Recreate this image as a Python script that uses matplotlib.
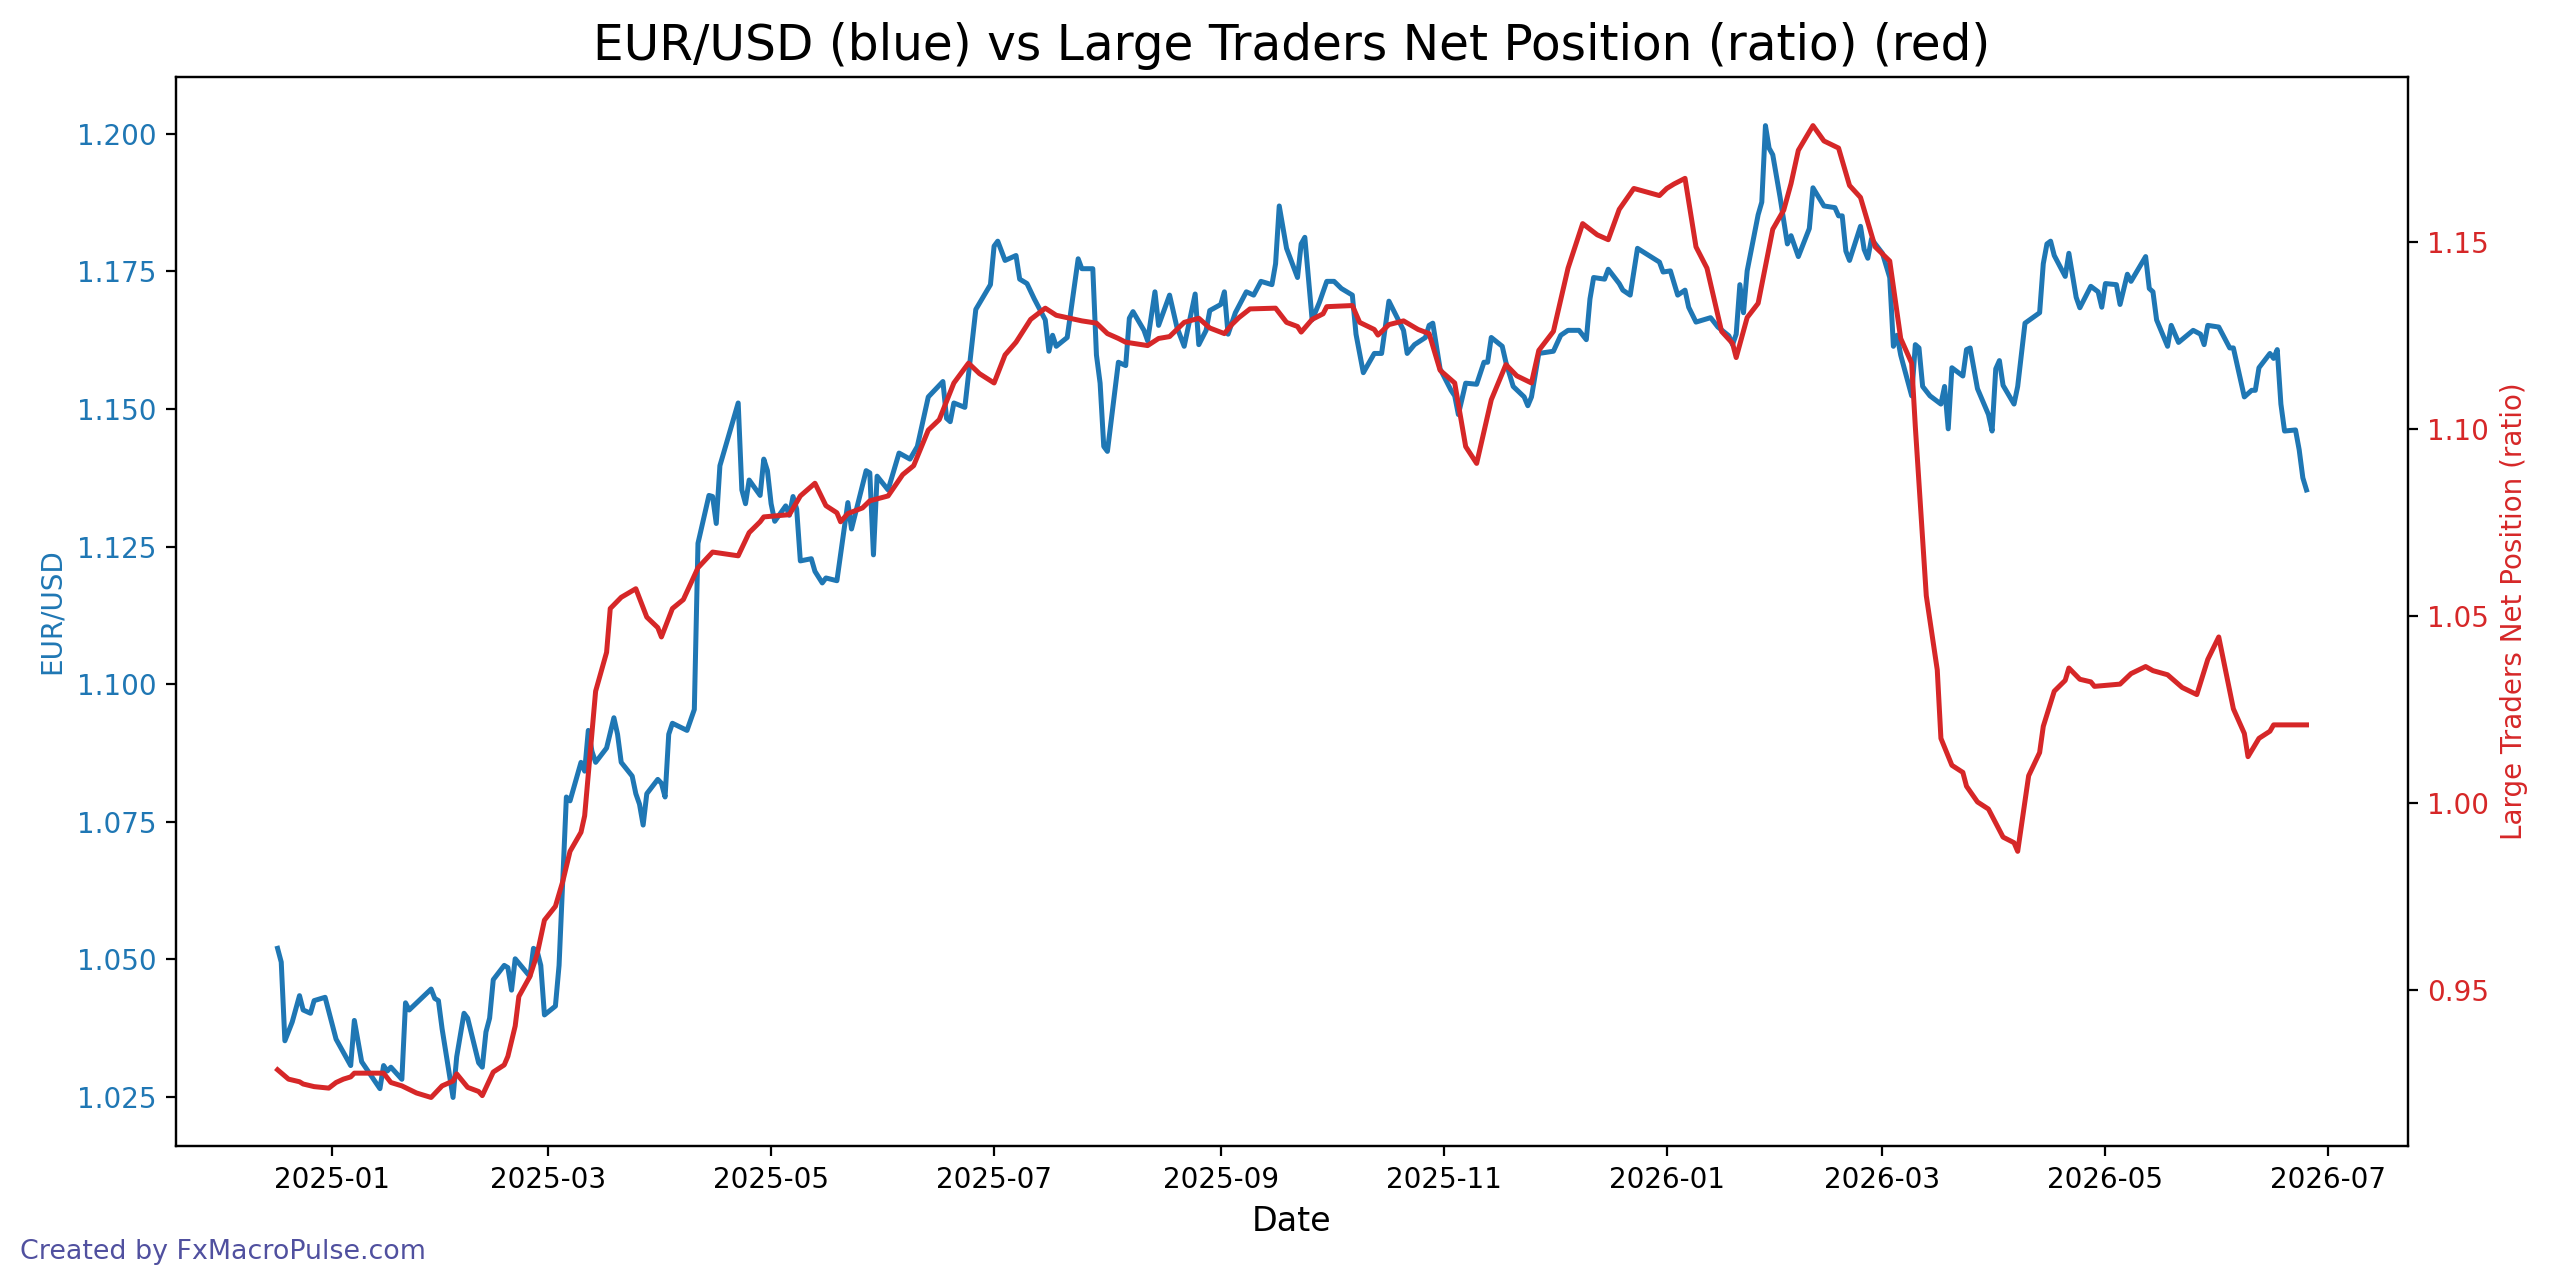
import numpy as np
import pandas as pd
import matplotlib
matplotlib.use("Agg")
import matplotlib.pyplot as plt

# Dates are given as day offsets from 2025-01-01
base_date = "2025-01-01"

# EUR/USD close (blue)
eur_days = [-15, -14, -13, -11, -9, -8, -6, -5, -2, 1, 5, 6, 8, 13, 14, 15, 16, 19, 20, 21,
            27, 28, 29, 30, 33, 34, 36, 37, 40, 41, 42, 43, 44, 47, 48, 49, 50, 54, 55, 56,
            57, 58, 61, 62, 64, 65, 68, 69, 70, 71, 72, 75, 77, 78, 79, 82, 83, 84, 85, 86,
            89, 90, 91, 92, 93, 97, 99, 100, 103, 104, 105, 106, 111, 112, 113, 114, 117, 118, 119, 120,
            121, 124, 125, 126, 127, 128, 131, 132, 134, 135, 138, 141, 142, 146, 147, 148, 149, 152, 155, 158,
            160, 163, 167, 168, 169, 170, 173, 176, 180, 181, 182, 184, 187, 188, 190, 192, 195, 196, 197, 198,
            201, 203, 204, 205, 208, 209, 210, 211, 212, 215, 217, 218, 219, 222, 223, 225, 226, 229, 231, 233,
            236, 237, 239, 240, 243, 244, 245, 247, 250, 252, 254, 257, 258, 259, 261, 264, 265, 266, 268, 270,
            272, 274, 276, 279, 280, 282, 285, 287, 289, 293, 294, 296, 299, 300, 301, 303, 306, 307, 308, 310,
            313, 315, 316, 317, 320, 321, 323, 326, 327, 328, 330, 334, 336, 338, 341, 343, 344, 345, 348, 349,
            352, 353, 355, 357, 363, 364, 366, 368, 370, 371, 373, 377, 379, 382, 383, 384, 385, 386, 387, 390,
            391, 392, 393, 394, 396, 398, 399, 401, 404, 405, 408, 411, 412, 413, 414, 415, 418, 419, 420, 421,
            424, 426, 427, 428, 429, 432, 433, 434, 435, 437, 440, 441, 442, 443, 446, 447, 448, 450, 453, 454,
            455, 456, 457, 460, 461, 463, 467, 468, 469, 470, 471, 474, 475, 477, 478, 481, 483, 484, 485, 488,
            489, 491, 492, 496, 497, 498, 499, 502, 503, 505, 509, 511, 512, 513, 516, 519, 520, 523, 525, 526,
            527, 530, 531, 532, 533, 534, 537, 538, 539, 540]
eur_usd = [1.0520, 1.0495, 1.0352, 1.0386, 1.0434, 1.0408, 1.0402, 1.0425, 1.0431, 1.0355,
           1.0307, 1.0389, 1.0314, 1.0265, 1.0307, 1.0297, 1.0304, 1.0282, 1.0421, 1.0408,
           1.0446, 1.0429, 1.0425, 1.0374, 1.0249, 1.0323, 1.0402, 1.0393, 1.0312, 1.0304,
           1.0368, 1.0393, 1.0463, 1.0489, 1.0485, 1.0444, 1.0501, 1.0469, 1.0520, 1.0515,
           1.0489, 1.0399, 1.0415, 1.0489, 1.0795, 1.0788, 1.0858, 1.0842, 1.0916, 1.0878,
           1.0858, 1.0884, 1.0939, 1.0909, 1.0858, 1.0833, 1.0801, 1.0782, 1.0744, 1.0801,
           1.0827, 1.0820, 1.0795, 1.0909, 1.0929, 1.0916, 1.0954, 1.1256, 1.1343, 1.1341,
           1.1292, 1.1397, 1.1511, 1.1353, 1.1328, 1.1371, 1.1343, 1.1409, 1.1388, 1.1328,
           1.1296, 1.1324, 1.1307, 1.1341, 1.1318, 1.1224, 1.1228, 1.1205, 1.1184, 1.1193,
           1.1188, 1.1330, 1.1282, 1.1388, 1.1384, 1.1235, 1.1378, 1.1353, 1.1420, 1.1409,
           1.1432, 1.1522, 1.1550, 1.1483, 1.1477, 1.1511, 1.1503, 1.1681, 1.1726, 1.1796,
           1.1805, 1.1770, 1.1779, 1.1736, 1.1728, 1.1700, 1.1662, 1.1605, 1.1634, 1.1614,
           1.1630, 1.1726, 1.1773, 1.1755, 1.1755, 1.1598, 1.1547, 1.1432, 1.1423, 1.1585,
           1.1579, 1.1665, 1.1677, 1.1643, 1.1624, 1.1713, 1.1652, 1.1707, 1.1649, 1.1614,
           1.1709, 1.1617, 1.1643, 1.1679, 1.1690, 1.1713, 1.1636, 1.1675, 1.1713, 1.1707,
           1.1732, 1.1726, 1.1764, 1.1869, 1.1792, 1.1739, 1.1800, 1.1812, 1.1662, 1.1694,
           1.1732, 1.1732, 1.1719, 1.1707, 1.1636, 1.1566, 1.1601, 1.1601, 1.1696, 1.1643,
           1.1601, 1.1617, 1.1630, 1.1652, 1.1656, 1.1573, 1.1534, 1.1524, 1.1490, 1.1547,
           1.1545, 1.1585, 1.1585, 1.1630, 1.1614, 1.1585, 1.1541, 1.1522, 1.1506, 1.1522,
           1.1601, 1.1605, 1.1634, 1.1643, 1.1643, 1.1626, 1.1700, 1.1739, 1.1736, 1.1754,
           1.1728, 1.1716, 1.1707, 1.1792, 1.1767, 1.1749, 1.1751, 1.1707, 1.1716, 1.1685,
           1.1658, 1.1666, 1.1649, 1.1633, 1.1617, 1.1636, 1.1726, 1.1675, 1.1751, 1.1853,
           1.1876, 1.2015, 1.1974, 1.1962, 1.1885, 1.1800, 1.1815, 1.1777, 1.1828, 1.1902,
           1.1869, 1.1866, 1.1851, 1.1851, 1.1787, 1.1770, 1.1832, 1.1790, 1.1774, 1.1809,
           1.1783, 1.1739, 1.1614, 1.1634, 1.1598, 1.1524, 1.1617, 1.1611, 1.1541, 1.1524,
           1.1509, 1.1541, 1.1464, 1.1575, 1.1560, 1.1608, 1.1611, 1.1537, 1.1490, 1.1460,
           1.1573, 1.1588, 1.1543, 1.1509, 1.1541, 1.1656, 1.1675, 1.1764, 1.1800, 1.1805,
           1.1779, 1.1741, 1.1783, 1.1703, 1.1684, 1.1723, 1.1713, 1.1685, 1.1728, 1.1726,
           1.1690, 1.1745, 1.1732, 1.1777, 1.1719, 1.1713, 1.1662, 1.1614, 1.1652, 1.1621,
           1.1643, 1.1636, 1.1617, 1.1652, 1.1649, 1.1611, 1.1611, 1.1522, 1.1534, 1.1534,
           1.1575, 1.1601, 1.1592, 1.1608, 1.1509, 1.1460, 1.1462, 1.1426, 1.1375, 1.1353]

# Large traders net position ratio (red)
ratio_days = [-15, -12, -9, -8, -5, -1, 1, 3, 5, 6, 14, 16, 19, 23, 27, 30, 33, 34, 37, 40,
              41, 44, 47, 48, 50, 51, 54, 56, 58, 61, 63, 65, 68, 69, 72, 75, 76, 79, 83, 86,
              89, 90, 93, 96, 100, 104, 111, 114, 117, 118, 125, 128, 132, 135, 138, 139, 141, 145, 147, 152,
              156, 159, 163, 166, 170, 174, 177, 181, 184, 187, 191, 195, 198, 205, 209, 212, 215, 217, 219, 223,
              226, 229, 233, 237, 240, 244, 246, 248, 251, 258, 261, 264, 265, 268, 271, 272, 279, 281, 285, 286,
              289, 293, 297, 300, 303, 307, 310, 313, 317, 321, 324, 328, 330, 334, 338, 342, 346, 349, 352, 356,
              363, 365, 367, 370, 373, 376, 378, 380, 383, 384, 387, 390, 394, 397, 399, 401, 405, 408, 412, 415,
              418, 422, 426, 429, 432, 433, 436, 439, 440, 443, 446, 447, 450, 453, 457, 460, 461, 464, 467, 468,
              471, 474, 475, 478, 481, 482, 489, 492, 496, 498, 502, 506, 510, 513, 516, 520, 523, 524, 527, 530,
              531, 540]
net_ratio = [0.9287, 0.9262, 0.9255, 0.9249, 0.9242, 0.9238, 0.9253, 0.9262, 0.9268, 0.9278,
             0.9278, 0.9253, 0.9244, 0.9225, 0.9213, 0.9244, 0.9257, 0.9276, 0.9240, 0.9229,
             0.9218, 0.9281, 0.9300, 0.9323, 0.9404, 0.9483, 0.9536, 0.9596, 0.9687, 0.9724,
             0.9790, 0.9871, 0.9922, 0.9966, 1.0299, 1.0403, 1.0520, 1.0550, 1.0573, 1.0497,
             1.0469, 1.0444, 1.0520, 1.0544, 1.0629, 1.0671, 1.0661, 1.0723, 1.0752, 1.0765,
             1.0771, 1.0821, 1.0855, 1.0795, 1.0776, 1.0752, 1.0774, 1.0789, 1.0808, 1.0821,
             1.0878, 1.0902, 1.0997, 1.1025, 1.1123, 1.1176, 1.1148, 1.1123, 1.1198, 1.1232,
             1.1293, 1.1323, 1.1304, 1.1289, 1.1283, 1.1255, 1.1242, 1.1232, 1.1229, 1.1223,
             1.1242, 1.1247, 1.1285, 1.1296, 1.1270, 1.1255, 1.1279, 1.1298, 1.1321, 1.1323,
             1.1285, 1.1274, 1.1259, 1.1293, 1.1308, 1.1327, 1.1330, 1.1285, 1.1266, 1.1251,
             1.1279, 1.1289, 1.1266, 1.1255, 1.1157, 1.1123, 1.0953, 1.0908, 1.1078, 1.1172,
             1.1142, 1.1123, 1.1210, 1.1261, 1.1430, 1.1549, 1.1519, 1.1506, 1.1587, 1.1643,
             1.1624, 1.1643, 1.1655, 1.1670, 1.1487, 1.1430, 1.1345, 1.1261, 1.1229, 1.1191,
             1.1298, 1.1336, 1.1534, 1.1585, 1.1656, 1.1745, 1.1811, 1.1770, 1.1751, 1.1651,
             1.1619, 1.1487, 1.1449, 1.1242, 1.1176, 1.1006, 1.0554, 1.0356, 1.0173, 1.0101,
             1.0082, 1.0045, 1.0003, 0.9984, 0.9909, 0.9894, 0.9871, 1.0073, 1.0135, 1.0205,
             1.0299, 1.0328, 1.0361, 1.0331, 1.0324, 1.0312, 1.0318, 1.0346, 1.0365, 1.0354,
             1.0343, 1.0309, 1.0290, 1.0384, 1.0444, 1.0252, 1.0186, 1.0124, 1.0173, 1.0192,
             1.0209, 1.0209]

eur_dates = pd.Timestamp(base_date) + pd.to_timedelta(eur_days, unit="D")
ratio_dates = pd.Timestamp(base_date) + pd.to_timedelta(ratio_days, unit="D")

fig, ax1 = plt.subplots(figsize=(12.8, 6.44), dpi=200)
fig.subplots_adjust(left=0.0688, right=0.9406, top=0.9402, bottom=0.1102)

color1 = "tab:blue"
ax1.plot(eur_dates, eur_usd, color=color1, linewidth=1.8)
ax1.set_xlabel("Date", fontsize=12)
ax1.set_ylabel("EUR/USD", color=color1)
ax1.tick_params(axis="y", labelcolor=color1)

ax2 = ax1.twinx()
color2 = "tab:red"
ax2.plot(ratio_dates, net_ratio, color=color2, linewidth=1.8)
ax2.set_ylabel("Large Traders Net Position (ratio)", color=color2)
ax2.tick_params(axis="y", labelcolor=color2)

ax1.set_title("EUR/USD (blue) vs Large Traders Net Position (ratio) (red)", fontsize=17.5)

fig.text(0.008, 0.028, "Created by FxMacroPulse.com", fontsize=9.7,
         color="#50509f", va="center", ha="left")

plt.savefig("out.png", dpi=200)
